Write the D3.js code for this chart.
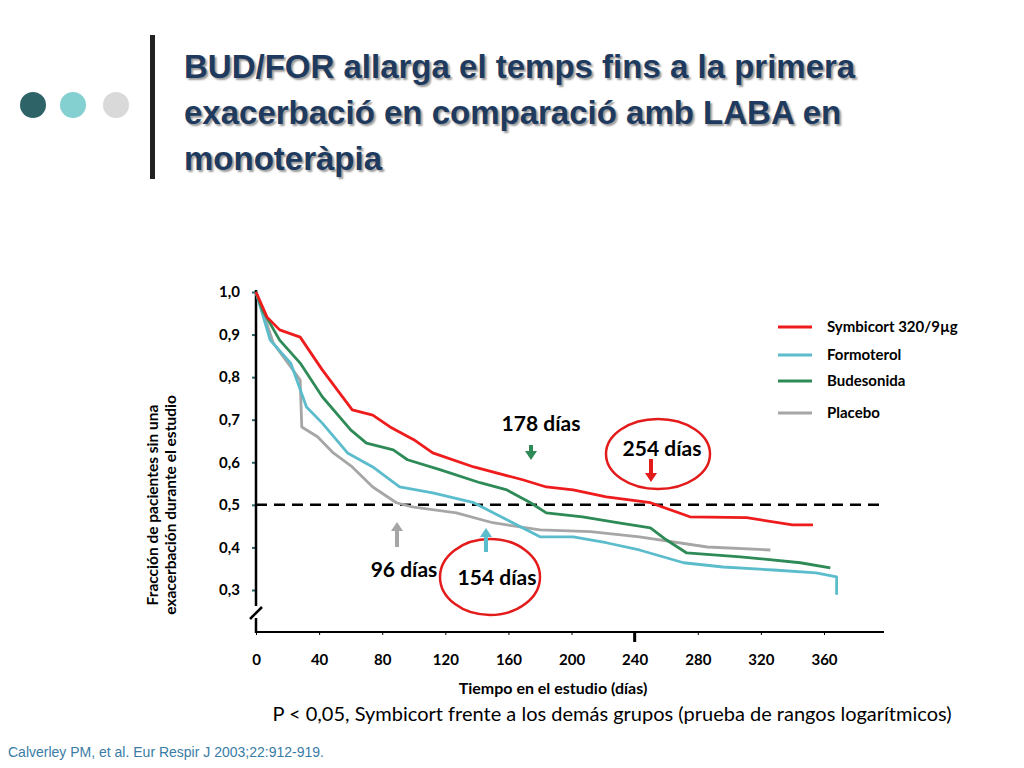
<!DOCTYPE html>
<html><head><meta charset="utf-8">
<script src="https://cdn.jsdelivr.net/npm/d3@7"></script>
<style>body{margin:0;background:#fff}svg{display:block}</style>
</head><body>
<svg id="c" width="1024" height="768"></svg>
<script>
const xTicks=[0,40,80,120,160,200,240,280,320,360];
const yTicks=[0.3,0.4,0.5,0.6,0.7,0.8,0.9,1.0];
const seriesNames=["Symbicort 320/9µg","Formoterol","Budesonida","Placebo"];
const seriesColors=["#ee1c1c","#5bbccc","#2e8b57","#a6a6a6"];
const symbicort=[[0,1],[7,0.941],[15,0.911],[28,0.894],[42,0.817],[61,0.723],[74,0.711],[85,0.683],[100,0.653],[112,0.622],[138,0.589],[169,0.559],[184,0.542],[201,0.535],[222,0.519],[250,0.505],[275,0.472],[311,0.47],[340,0.453],[353,0.453]];
const formoterol=[[0,1],[9,0.887],[22,0.833],[32,0.73],[42,0.692],[58,0.622],[74,0.589],[91,0.542],[112,0.528],[138,0.505],[159,0.465],[180,0.425],[201,0.425],[222,0.411],[243,0.394],[271,0.364],[296,0.354],[328,0.347],[355,0.34],[368,0.331],[368,0.289]];
const budesonida=[[0,1],[4,0.958],[15,0.887],[28,0.833],[42,0.754],[60,0.676],[70,0.645],[87,0.629],[96,0.606],[117,0.582],[142,0.552],[159,0.535],[174,0.505],[184,0.481],[207,0.472],[229,0.458],[250,0.446],[260,0.418],[273,0.387],[307,0.378],[345,0.364],[364,0.352]];
const placebo=[[0,1],[11,0.88],[22,0.824],[28,0.793],[29,0.683],[39,0.66],[49,0.622],[61,0.589],[74,0.542],[89,0.505],[99,0.495],[127,0.481],[150,0.458],[180,0.441],[212,0.437],[243,0.425],[286,0.401],[326,0.394]];
const series=[symbicort,formoterol,budesonida,placebo];

const svg=d3.select("#c");
const F="Lato, 'Open Sans', sans-serif";
[[33,"#2e6468"],[73,"#84cfd0"],[116,"#d9d9d9"]].forEach(([cx,c])=>svg.append("circle").attr("cx",cx).attr("cy",105).attr("r",13).attr("fill",c));
svg.append("rect").attr("x",150).attr("y",35).attr("width",5).attr("height",144).attr("fill","#222");
const title=["BUD/FOR allarga el temps fins a la primera","exacerbació en comparació amb LABA en","monoteràpia"];
title.forEach((t,i)=>svg.append("text").attr("x",184).attr("y",78+i*46).attr("font-family","Liberation Sans, Arial, sans-serif").attr("font-weight","bold").attr("font-size",33).attr("fill","#1f3a5f").attr("style","text-shadow:2px 2px 2px #999").text(t));

const x=d3.scaleLinear().domain([0,360]).range([256,824]);
const y=d3.scaleLinear().domain([0.3,1.0]).range([590,292]);

const ya=svg.append("g").attr("transform","translate(256,0)").call(d3.axisLeft(y).tickValues(yTicks).tickSize(4).tickFormat(d=>d3.format(".1f")(d).replace(".",",")));
ya.select(".domain").remove();
ya.selectAll("line").attr("stroke","#2e6468").attr("stroke-width",2);
ya.selectAll("text").attr("font-family",F).attr("font-weight","bold").attr("font-size",15).attr("x",-16);
svg.append("line").attr("x1",256).attr("x2",256).attr("y1",290).attr("y2",606).attr("stroke","#000").attr("stroke-width",2.5);
svg.append("line").attr("x1",256).attr("x2",256).attr("y1",618).attr("y2",633).attr("stroke","#000").attr("stroke-width",2.5);
svg.append("line").attr("x1",250).attr("x2",262).attr("y1",619).attr("y2",607).attr("stroke","#000").attr("stroke-width",2.5);

const xa=svg.append("g").attr("transform","translate(0,632)").call(d3.axisBottom(x).tickValues(xTicks).tickSize(3));
xa.select(".domain").remove();
svg.append("line").attr("x1",255).attr("x2",884).attr("y1",632).attr("y2",632).attr("stroke","#000").attr("stroke-width",2);
xa.selectAll("text").attr("font-family",F).attr("font-weight","bold").attr("font-size",15).attr("y",22);
svg.append("line").attr("x1",x(240)).attr("x2",x(240)).attr("y1",632).attr("y2",642).attr("stroke","#000").attr("stroke-width",3);
svg.append("text").attr("x",553).attr("y",694).attr("text-anchor","middle").attr("font-family",F).attr("font-weight","bold").attr("font-size",16).text("Tiempo en el estudio (días)");
const yl=svg.append("text").attr("transform","translate(158,505) rotate(-90)").attr("text-anchor","middle").attr("font-family",F).attr("font-weight","bold").attr("font-size",15.5);
yl.append("tspan").attr("x",0).attr("dy",0).text("Fracción de pacientes sin una");
yl.append("tspan").attr("x",0).attr("dy",18).text("exacerbación durante el estudio");

svg.append("line").attr("x1",x(0)).attr("x2",880).attr("y1",y(0.5)).attr("y2",y(0.5)).attr("stroke","#000").attr("stroke-width",2.5).attr("stroke-dasharray","11,7");

const line=d3.line().x(d=>x(d[0])).y(d=>y(d[1]));
[3,1,2,0].forEach(i=>svg.append("path").attr("d",line(series[i])).attr("fill","none").attr("stroke",seriesColors[i]).attr("stroke-width",2.8).attr("stroke-linejoin","round"));

const ly=[327,355,381,413];
seriesNames.forEach((n,i)=>{
 svg.append("line").attr("x1",778).attr("x2",812).attr("y1",ly[i]).attr("y2",ly[i]).attr("stroke",seriesColors[i]).attr("stroke-width",3);
 svg.append("text").attr("x",827).attr("y",ly[i]+5).attr("font-family",F).attr("font-weight","bold").attr("font-size",15).text(n);
});

function arrow(xp,y1,y2,c){const dir=y2>y1?1:-1;
 svg.append("line").attr("x1",xp).attr("x2",xp).attr("y1",y1).attr("y2",y2-dir*8).attr("stroke",c).attr("stroke-width",4);
 svg.append("path").attr("d",`M${xp-6},${y2-dir*9}L${xp+6},${y2-dir*9}L${xp},${y2}Z`).attr("fill",c);}
function lab(t,xp,yp){svg.append("text").attr("x",xp).attr("y",yp).attr("text-anchor","middle").attr("font-family",F).attr("font-weight","bold").attr("font-size",21).text(t);}
svg.append("ellipse").attr("cx",658).attr("cy",454).attr("rx",52).attr("ry",35).attr("fill","none").attr("stroke","#e31b1b").attr("stroke-width",2.5);
svg.append("ellipse").attr("cx",490).attr("cy",577).attr("rx",50).attr("ry",38).attr("fill","none").attr("stroke","#e31b1b").attr("stroke-width",2.5);
lab("178 días",541,431); arrow(531,445,460,"#2e8b57");
lab("254 días",662,456); arrow(651,459,482,"#e31b1b");
lab("96 días",404,577); arrow(397,547,522,"#a6a6a6");
lab("154 días",497,585); arrow(486,552,528,"#5bbccc");

svg.append("text").attr("x",612).attr("y",721).attr("text-anchor","middle").attr("font-family",F).attr("font-size",20).text("P < 0,05, Symbicort frente a los demás grupos (prueba de rangos logarítmicos)");
svg.append("text").attr("x",8).attr("y",757).attr("font-family","Liberation Sans, Arial, sans-serif").attr("font-size",14).attr("fill","#3a7ca5").text("Calverley PM, et al. Eur Respir J 2003;22:912-919.");
</script>
</body></html>
